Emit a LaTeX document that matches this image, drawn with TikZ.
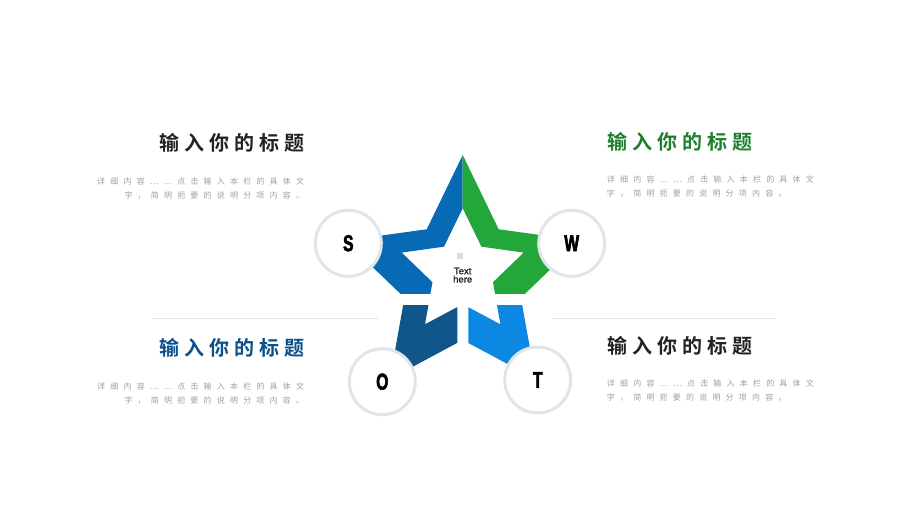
\documentclass[tikz,border=0pt]{standalone}
\usepackage{fontspec}
\setmainfont{Liberation Sans}
\newfontfamily\cjktitle{Noto Sans CJK SC}[UprightFont=* Bold, LetterSpace=25]
\newfontfamily\cjkbody{Noto Sans CJK SC}[LetterSpace=65]
\newfontfamily\swotfont{Liberation Sans Bold}[FakeStretch=0.68, FakeBold=2.5]
\newfontfamily\midfont{Liberation Sans}[FakeBold=1]

\definecolor{starblue}{RGB}{7,106,181}
\definecolor{stargreen}{RGB}{35,166,58}
\definecolor{stardark}{RGB}{17,86,138}
\definecolor{starlight}{RGB}{13,136,226}
\definecolor{ringgray}{RGB}{225,228,233}
\definecolor{bodygray}{RGB}{160,160,160}
\definecolor{titledark}{RGB}{34,34,34}
\definecolor{titlegreen}{RGB}{30,128,46}
\definecolor{titleblue}{RGB}{13,79,139}

\tikzset{
  starring/.style={insert path={
    ([shift={(oc)}]-90:123.8) \foreach \k in {0,...,4}{
      -- ([shift={(oc)}]{-54+72*\k}:61.2) -- ([shift={(oc)}]{-18+72*\k}:123.8)} -- cycle
    ([shift={(ic)}]-90:64.1) \foreach \k in {0,...,4}{
      -- ([shift={(ic)}]{-54+72*\k}:31.8) -- ([shift={(ic)}]{-18+72*\k}:64.1)} -- cycle}},
  letter/.style={circle, draw=ringgray, line width=3pt, fill=white, minimum size=66pt,
    inner sep=0pt, font=\swotfont\fontsize{23}{23}\selectfont, text=black},
  title/.style={font=\cjktitle\fontsize{20}{20}\selectfont, inner sep=0pt},
  body/.style={font=\cjkbody\fontsize{8}{14.3}\selectfont, text=bodygray, inner sep=0pt},
  rule/.style={draw=ringgray, line width=0.8pt}
}

\begin{document}
\begin{tikzpicture}[x=1pt, y=-1pt]
        \useasboundingbox[fill=white] (0,0) rectangle (920,518);

        % Star centres
        \coordinate (oc) at (462.7,278.8);
        \coordinate (ic) at (462.7,272.4);

        % Star pieces
        \begin{scope}
          \clip (300,140) rectangle (462.7,293.3);
          \fill[starblue, even odd rule, starring];
        \end{scope}
        \begin{scope}
          \clip (462.7,140) rectangle (620,293.3);
          \fill[stargreen, even odd rule, starring];
        \end{scope}
        \begin{scope}
          \clip (300,305.7) rectangle (457.3,430);
          \fill[stardark, even odd rule, starring];
        \end{scope}
        \begin{scope}
          \clip (468.3,305.7) rectangle (620,430);
          \fill[starlight, even odd rule, starring];
        \end{scope}

        % Centre text
        \node at (460.3,255.7) (dot) [fill=black!14, minimum size=6pt, inner sep=0pt] {};
        \node at (462.7,275.2) (mid) [align=center, inner sep=0pt, text=black!88,
          font=\midfont\fontsize{9.5}{8.3}\selectfont] {Text\\here};

        % Letter circles
        \node at (348.3,243.3) (S) [letter] {S};
        \node at (571.7,243.3) (W) [letter] {W};
        \node at (382.3,381.7) (O) [letter] {O};
        \node at (537.7,380) (T) [letter] {T};

        % Divider lines
        \draw[rule] (153,318) -- (378,318);
        \draw[rule] (552,318) -- (776,318);

        % Left side texts
        \node at (305,143) (title1) [title, anchor=east, text=titledark] {输入你的标题};
        \node at (304.3,188.8) (body1) [body, anchor=east, align=right]
          {详细内容……点击输入本栏的具体文\\字，简明扼要的说明分项内容。};
        \node at (305,347.5) (title3) [title, anchor=east, text=titleblue] {输入你的标题};
        \node at (304.3,393.3) (body3) [body, anchor=east, align=right]
          {详细内容……点击输入本栏的具体文\\字，简明扼要的说明分项内容。};

        % Right side texts
        \node at (607,142) (title2) [title, anchor=west, text=titlegreen] {输入你的标题};
        \node at (606.7,186.7) (body2) [body, anchor=west, align=left]
          {详细内容……点击输入本栏的具体文\\字，简明扼要的说明分项内容。};
        \node at (607,346) (title4) [title, anchor=west, text=titledark] {输入你的标题};
        \node at (606.7,390.3) (body4) [body, anchor=west, align=left]
          {详细内容……点击输入本栏的具体文\\字，简明扼要的说明分项内容。};
\end{tikzpicture}
\end{document}
